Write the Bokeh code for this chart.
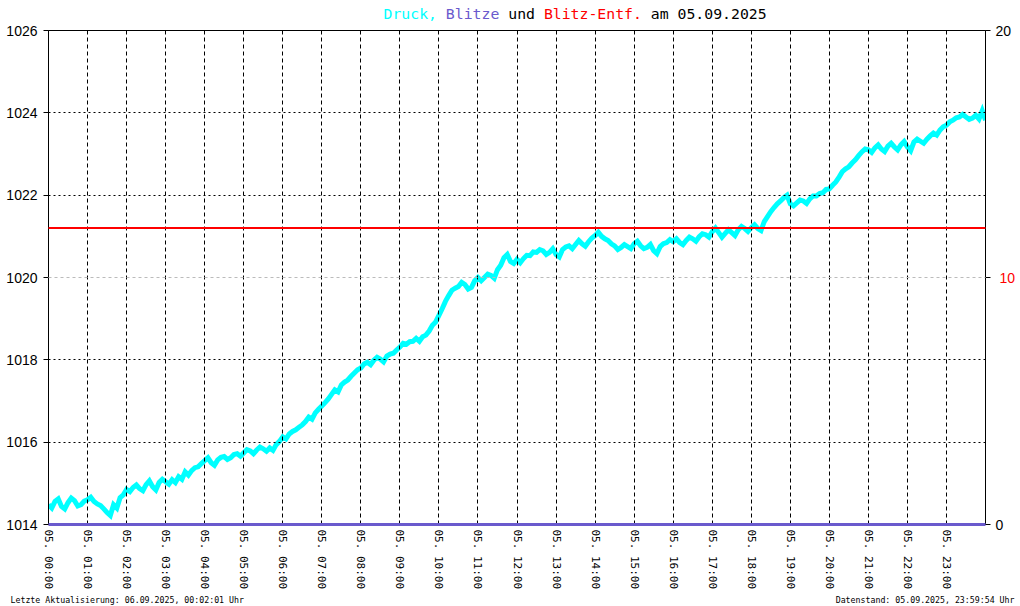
from bokeh.plotting import figure
from bokeh.models import Range1d, LinearAxis, FixedTicker, Grid, ColumnDataSource
from bokeh.layouts import column
from bokeh.core.properties import value
from bokeh.embed import file_html
from bokeh.resources import INLINE

# ---------------- data ----------------
# air pressure (hPa), one reading every 5 minutes, 05.09.2025 00:00 .. 24:00 (one row per hour)
pressure_hpa = [
    1014.48, 1014.40, 1014.56, 1014.62, 1014.44, 1014.38, 1014.53, 1014.64, 1014.58, 1014.45, 1014.48, 1014.57,
    1014.60, 1014.66, 1014.56, 1014.50, 1014.46, 1014.38, 1014.29, 1014.22, 1014.48, 1014.40, 1014.65, 1014.72,
    1014.85, 1014.80, 1014.90, 1014.96, 1014.87, 1014.82, 1014.97, 1015.06, 1014.92, 1014.84, 1015.02, 1015.10,
    1015.04, 1014.98, 1015.09, 1015.02, 1015.16, 1015.10, 1015.28, 1015.20, 1015.31, 1015.38, 1015.40, 1015.48,
    1015.55, 1015.62, 1015.50, 1015.44, 1015.57, 1015.63, 1015.65, 1015.58, 1015.62, 1015.70, 1015.72, 1015.66,
    1015.74, 1015.82, 1015.79, 1015.72, 1015.81, 1015.88, 1015.84, 1015.78, 1015.86, 1015.80, 1015.94, 1016.02,
    1016.13, 1016.08, 1016.20, 1016.26, 1016.30, 1016.36, 1016.42, 1016.50, 1016.61, 1016.56, 1016.71, 1016.80,
    1016.88, 1016.96, 1017.05, 1017.16, 1017.27, 1017.22, 1017.39, 1017.46, 1017.51, 1017.60, 1017.68, 1017.76,
    1017.80, 1017.90, 1017.94, 1017.88, 1017.99, 1018.06, 1018.02, 1017.95, 1018.09, 1018.14, 1018.16, 1018.24,
    1018.31, 1018.40, 1018.38, 1018.44, 1018.45, 1018.52, 1018.45, 1018.56, 1018.60, 1018.70, 1018.84, 1018.92,
    1019.08, 1019.24, 1019.42, 1019.56, 1019.69, 1019.74, 1019.78, 1019.88, 1019.83, 1019.72, 1019.76, 1019.92,
    1020.00, 1019.92, 1020.00, 1020.08, 1020.05, 1019.98, 1020.19, 1020.30, 1020.48, 1020.56, 1020.39, 1020.34,
    1020.44, 1020.36, 1020.46, 1020.54, 1020.53, 1020.62, 1020.61, 1020.68, 1020.65, 1020.56, 1020.61, 1020.70,
    1020.56, 1020.50, 1020.68, 1020.74, 1020.77, 1020.70, 1020.80, 1020.90, 1020.82, 1020.76, 1020.87, 1020.96,
    1021.02, 1021.10, 1021.00, 1020.94, 1020.90, 1020.82, 1020.77, 1020.68, 1020.73, 1020.80, 1020.75, 1020.70,
    1020.82, 1020.88, 1020.77, 1020.70, 1020.73, 1020.80, 1020.65, 1020.58, 1020.75, 1020.82, 1020.85, 1020.92,
    1020.87, 1020.94, 1020.85, 1020.80, 1020.90, 1020.98, 1020.94, 1020.88, 1020.99, 1021.06, 1021.04, 1020.98,
    1021.11, 1021.20, 1021.09, 1020.98, 1021.07, 1021.16, 1021.09, 1021.02, 1021.16, 1021.24, 1021.19, 1021.12,
    1021.21, 1021.28, 1021.19, 1021.14, 1021.36, 1021.48, 1021.60, 1021.70, 1021.79, 1021.86, 1021.94, 1022.00,
    1021.79, 1021.74, 1021.81, 1021.88, 1021.86, 1021.80, 1021.91, 1021.98, 1021.98, 1022.04, 1022.06, 1022.14,
    1022.15, 1022.24, 1022.32, 1022.44, 1022.57, 1022.64, 1022.69, 1022.78, 1022.86, 1022.96, 1023.05, 1023.12,
    1023.10, 1023.04, 1023.15, 1023.22, 1023.12, 1023.06, 1023.19, 1023.26, 1023.17, 1023.10, 1023.22, 1023.30,
    1023.17, 1023.08, 1023.29, 1023.36, 1023.31, 1023.26, 1023.36, 1023.44, 1023.51, 1023.46, 1023.58, 1023.66,
    1023.70, 1023.78, 1023.82, 1023.88, 1023.90, 1023.96, 1023.90, 1023.84, 1023.87, 1023.94, 1023.85, 1024.05,
    1023.82,
]
pressure_minutes = list(range(0, 1441, 5))

# lightning count and lightning distance, hourly
blitz_hours = [0, 1, 2, 3, 4, 5, 6, 7, 8, 9, 10, 11, 12, 13, 14, 15, 16, 17, 18, 19, 20, 21, 22, 23, 24]
blitze_count = [0, 0, 0, 0, 0, 0, 0, 0, 0, 0, 0, 0, 0, 0, 0, 0, 0, 0, 0, 0, 0, 0, 0, 0, 0]
blitz_entf = [12, 12, 12, 12, 12, 12, 12, 12, 12, 12, 12, 12, 12, 12, 12, 12, 12, 12, 12, 12, 12, 12, 12, 12, 12]

hour_ticks = [0, 1, 2, 3, 4, 5, 6, 7, 8, 9, 10, 11, 12, 13, 14, 15, 16, 17, 18, 19, 20, 21, 22, 23]
hour_labels = ["05. 00:00", "05. 01:00", "05. 02:00", "05. 03:00", "05. 04:00", "05. 05:00",
               "05. 06:00", "05. 07:00", "05. 08:00", "05. 09:00", "05. 10:00", "05. 11:00",
               "05. 12:00", "05. 13:00", "05. 14:00", "05. 15:00", "05. 16:00", "05. 17:00",
               "05. 18:00", "05. 19:00", "05. 20:00", "05. 21:00", "05. 22:00", "05. 23:00"]
pressure_ticks = [1014, 1016, 1018, 1020, 1022, 1024, 1026]
pressure_grid = [1016, 1018, 1022, 1024]
right_ticks = [0, 10, 20]

title_texts = ["Druck,", "Blitze", "und", "Blitz-Entf.", "am 05.09.2025"]
footer_left = "Letzte Aktualisierung: 06.09.2025, 00:02:01 Uhr"
footer_right = "Datenstand: 05.09.2025, 23:59:54 Uhr"

# ---------------- layout constants ----------------
W = 1020
TITLE_H, FOOT_H = 22, 14
H = 606 - TITLE_H - FOOT_H          # main figure height (570)
ML, MR, MT = 48, 35, 8
FH = 496
MB = H - MT - FH                    # 66


def text_strip(height):
    # a frame of fixed size, not aligned with the chart, so page pixels map 1:1
    f = figure(frame_width=W, frame_height=height, x_range=Range1d(0, W), y_range=Range1d(height, 0),
               x_axis_type=None, y_axis_type=None, toolbar_location=None,
               output_backend="svg", min_border=0)
    if "frame_align" in f.properties():
        f.frame_align = False
    f.outline_line_color = None
    f.background_fill_color = "white"
    f.border_fill_color = "white"
    f.grid.visible = False
    return f


# ---------------- title strip ----------------
CH = 8.91                                   # advance of one monospace character
title_starts = [0, 7, 14, 18, 30]           # character offsets of the pieces
title_colors = ["#00ffff", "#6a5acd", "black", "red", "black"]
tsrc = ColumnDataSource(dict(x=[383 + s * CH for s in title_starts], y=[12.5] * 5,
                             text=title_texts, color=title_colors))
tf = text_strip(TITLE_H)
tf.text(x="x", y="y", text="text", source=tsrc, text_color="color",
        text_font=value("DejaVu Sans Mono"), text_font_size=value("14.8px"),
        text_baseline="middle", text_align="left")

# ---------------- main chart ----------------
p = figure(width=W, height=H, x_range=Range1d(0, 24), y_range=Range1d(1014, 1026),
           output_backend="svg", toolbar_location=None,
           min_border_left=ML, min_border_right=MR, min_border_top=MT, min_border_bottom=MB)
if "frame_align" in p.properties():
    p.frame_align = False
p.extra_y_ranges = {"blitz": Range1d(0, 20)}
p.background_fill_color = "white"
p.border_fill_color = "white"
p.outline_line_color = "black"
p.outline_line_alpha = 1.0
p.outline_line_width = 1

# x axis
xa = p.xaxis[0]
xa.ticker = FixedTicker(ticks=hour_ticks)
xa.major_label_overrides = dict(zip(hour_ticks, hour_labels))
xa.major_label_orientation = "vertical"
xa.major_tick_out = 0
xa.major_tick_in = 0
xa.minor_tick_out = 0
xa.minor_tick_in = 0
xa.major_label_standoff = 5
xa.axis_line_color = "black"
xa.major_label_text_font = "DejaVu Sans Mono"
xa.major_label_text_font_size = "11px"
xa.major_label_text_color = "black"

# left axis
ya = p.yaxis[0]
ya.ticker = FixedTicker(ticks=pressure_ticks)
ya.major_tick_out = 5
ya.major_tick_in = 0
ya.minor_tick_out = 0
ya.minor_tick_in = 0
ya.major_label_standoff = 6
ya.axis_line_color = "black"
ya.major_tick_line_color = "black"
ya.major_label_text_font = "Liberation Sans"
ya.major_label_text_font_size = "14px"
ya.major_label_text_color = "black"

# right axis (black labels 0 and 20)
ra = LinearAxis(y_range_name="blitz", ticker=FixedTicker(ticks=right_ticks),
                major_label_overrides={10: ""})
ra.major_tick_out = 5
ra.major_tick_in = 0
ra.minor_tick_out = 0
ra.minor_tick_in = 0
ra.major_label_standoff = 5
ra.axis_line_color = "black"
ra.major_label_text_font = "Liberation Sans"
ra.major_label_text_font_size = "14px"
ra.major_label_text_color = "black"
p.add_layout(ra, "right")

# second right axis carrying the red "10" label, pulled back beside the first one
ra2 = LinearAxis(y_range_name="blitz", ticker=FixedTicker(ticks=[10]))
ra2.axis_line_color = None
ra2.major_tick_line_color = None
ra2.minor_tick_line_color = None
ra2.major_tick_out = 0
ra2.major_tick_in = 0
ra2.minor_tick_out = 0
ra2.minor_tick_in = 0
ra2.major_label_standoff = -15
ra2.major_label_text_font = "Liberation Sans"
ra2.major_label_text_font_size = "14px"
ra2.major_label_text_color = "red"
p.add_layout(ra2, "right")

# grids
p.xgrid.ticker = FixedTicker(ticks=hour_ticks[1:])
p.xgrid.grid_line_color = "black"
p.xgrid.grid_line_dash = "4 3"
p.xgrid.grid_line_width = 1
p.xgrid.level = "guide"
p.ygrid.ticker = FixedTicker(ticks=pressure_grid)
p.ygrid.grid_line_color = "black"
p.ygrid.grid_line_dash = "2 3"
p.ygrid.grid_line_width = 1
p.ygrid.level = "guide"
g20 = Grid(dimension=1, ticker=FixedTicker(ticks=[1020]), grid_line_color="#bbbbbb",
           grid_line_dash="3 3", grid_line_width=1, level="guide")
p.add_layout(g20)

# series
p.line([m / 60 for m in pressure_minutes], pressure_hpa, line_color="#00ffff", line_width=5,
       line_join="miter")
p.line(blitz_hours, blitz_entf, y_range_name="blitz", line_color="red", line_width=2, level="annotation")
p.line(blitz_hours, blitze_count, y_range_name="blitz", line_color="#6a5acd", line_width=3, level="annotation")

# ---------------- footer strip ----------------
fsrc = ColumnDataSource(dict(x=[10, 1014], y=[7, 7], text=[footer_left, footer_right],
                             align=["left", "right"]))
ff = text_strip(FOOT_H)
ff.text(x="x", y="y", text="text", source=fsrc, text_color="black",
        text_font=value("DejaVu Sans Mono"), text_font_size=value("8.25px"),
        text_baseline="middle", text_align="align")

layout = column(tf, p, ff, spacing=0)

with open("out.html", "w") as f:
    f.write(file_html(layout, INLINE))
